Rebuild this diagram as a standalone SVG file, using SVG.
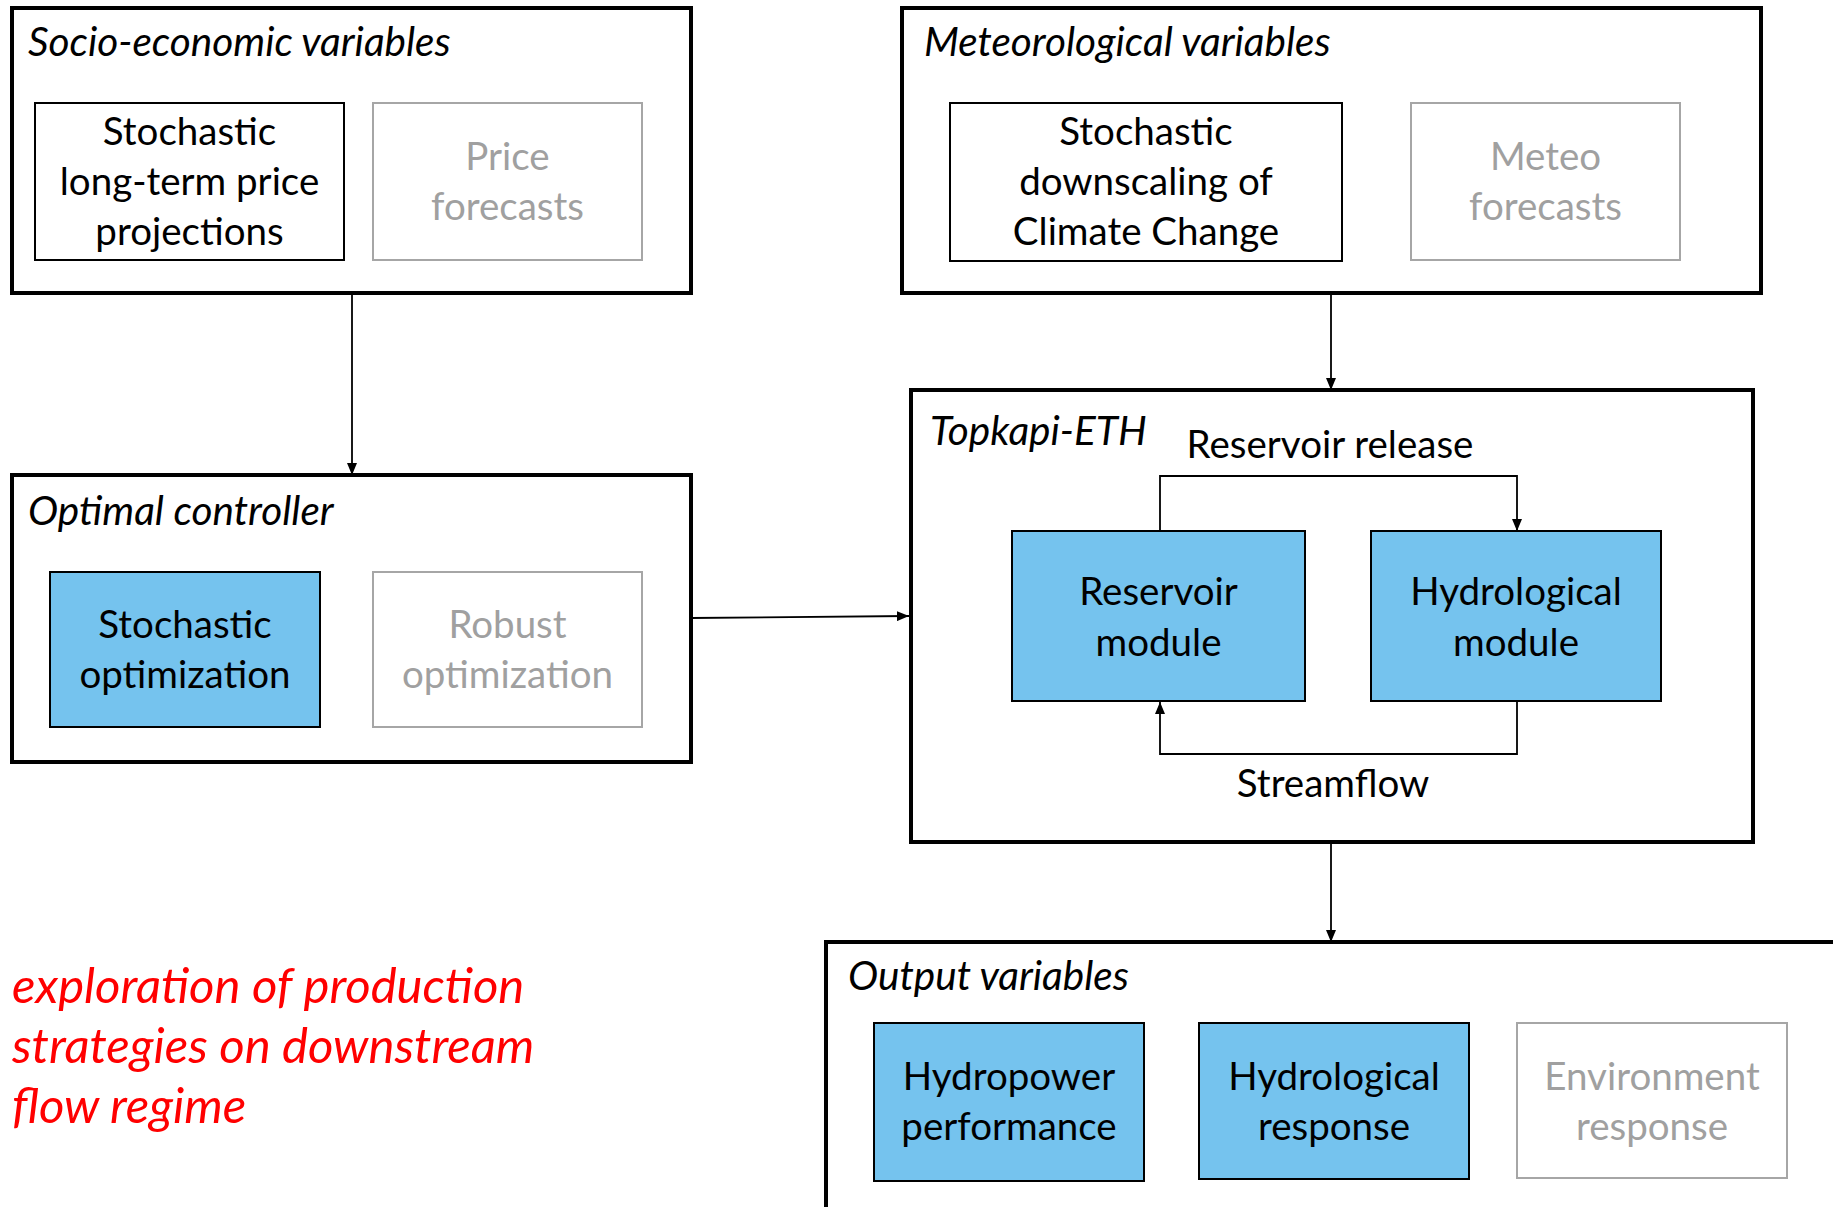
<svg xmlns="http://www.w3.org/2000/svg" width="1833" height="1207" viewBox="0 0 1833 1207">
  <style>
    .group { fill: #ffffff; stroke: #000000; stroke-width: 4; }
    .box { fill: #ffffff; stroke: #000000; stroke-width: 2; }
    .blue { fill: #75C3EE; stroke: #000000; stroke-width: 2; }
    .grey { fill: #ffffff; stroke: #A6A6A6; stroke-width: 2; }
    .title { font-family: Lato, "Liberation Sans", sans-serif; font-style: italic; font-size: 40.5px; fill: #000000; }
    .lbl { font-family: Lato, "Liberation Sans", sans-serif; font-size: 38.5px; fill: #000000; text-anchor: middle; }
    .lbl.dim { fill: #A0A0A0; }
    .note { font-family: Lato, "Liberation Sans", sans-serif; font-style: italic; font-size: 49px; fill: #FF0000; }
    .conn { fill: none; stroke: #000000; stroke-width: 1.8; }
  </style>
  <defs>
    <marker id="arrow" viewBox="0 0 12 10" refX="12" refY="5" markerWidth="12" markerHeight="10" markerUnits="userSpaceOnUse" orient="auto">
      <path d="M0,0 L12,5 L0,10 Z" fill="#000000"/>
    </marker>
  </defs>

  <rect width="1833" height="1207" fill="#ffffff"/>

  <!-- Socio-economic variables -->
  <g id="socio-economic">
    <rect class="group" x="12" y="8" width="679" height="285"/>
    <text class="title" x="28" y="56">Socio-economic variables</text>
    <g id="price-projections">
      <rect class="box" x="35" y="103" width="309" height="157"/>
      <text class="lbl" x="189.5" y="145">Stochastic</text>
      <text class="lbl" x="189.5" y="195">long-term price</text>
      <text class="lbl" x="189.5" y="245">projections</text>
    </g>
    <g id="price-forecasts">
      <rect class="grey" x="373" y="103" width="269" height="157"/>
      <text class="lbl dim" x="507.5" y="170">Price</text>
      <text class="lbl dim" x="507.5" y="220">forecasts</text>
    </g>
  </g>

  <!-- Meteorological variables -->
  <g id="meteorological">
    <rect class="group" x="902" y="8" width="859" height="285"/>
    <text class="title" x="924" y="56">Meteorological variables</text>
    <g id="climate-downscaling">
      <rect class="box" x="950" y="103" width="392" height="158"/>
      <text class="lbl" x="1146" y="145">Stochastic</text>
      <text class="lbl" x="1146" y="195">downscaling of</text>
      <text class="lbl" x="1146" y="245">Climate Change</text>
    </g>
    <g id="meteo-forecasts">
      <rect class="grey" x="1411" y="103" width="269" height="157"/>
      <text class="lbl dim" x="1545.5" y="170">Meteo</text>
      <text class="lbl dim" x="1545.5" y="220">forecasts</text>
    </g>
  </g>

  <!-- Optimal controller -->
  <g id="optimal-controller">
    <rect class="group" x="12" y="475" width="679" height="287"/>
    <text class="title" x="28" y="525">Optimal controller</text>
    <g id="stochastic-optimization">
      <rect class="blue" x="50" y="572" width="270" height="155"/>
      <text class="lbl" x="185" y="638">Stochastic</text>
      <text class="lbl" x="185" y="688">optimization</text>
    </g>
    <g id="robust-optimization">
      <rect class="grey" x="373" y="572" width="269" height="155"/>
      <text class="lbl dim" x="507.5" y="638">Robust</text>
      <text class="lbl dim" x="507.5" y="688">optimization</text>
    </g>
  </g>

  <!-- Topkapi-ETH -->
  <g id="topkapi-eth">
    <rect class="group" x="911" y="390" width="842" height="452"/>
    <text class="title" x="930" y="445">Topkapi-ETH</text>
    <g id="reservoir-module">
      <rect class="blue" x="1012" y="531" width="293" height="170"/>
      <text class="lbl" x="1158.5" y="605">Reservoir</text>
      <text class="lbl" x="1158.5" y="656">module</text>
    </g>
    <g id="hydrological-module">
      <rect class="blue" x="1371" y="531" width="290" height="170"/>
      <text class="lbl" x="1516" y="605">Hydrological</text>
      <text class="lbl" x="1516" y="656">module</text>
    </g>
  </g>

  <!-- Output variables -->
  <g id="output-variables">
    <rect class="group" x="826" y="942" width="1020" height="280"/>
    <text class="title" x="848" y="990">Output variables</text>
    <g id="hydropower-performance">
      <rect class="blue" x="874" y="1023" width="270" height="158"/>
      <text class="lbl" x="1009" y="1090">Hydropower</text>
      <text class="lbl" x="1009" y="1140">performance</text>
    </g>
    <g id="hydrological-response">
      <rect class="blue" x="1199" y="1023" width="270" height="156"/>
      <text class="lbl" x="1334" y="1090">Hydrological</text>
      <text class="lbl" x="1334" y="1140">response</text>
    </g>
    <g id="environment-response">
      <rect class="grey" x="1517" y="1023" width="270" height="155"/>
      <text class="lbl dim" x="1652" y="1090">Environment</text>
      <text class="lbl dim" x="1652" y="1140">response</text>
    </g>
  </g>

  <!-- Connectors -->
  <g id="connectors">
    <path class="conn" d="M352,293 L352,475" marker-end="url(#arrow)"/>
    <path class="conn" d="M1331,293 L1331,390" marker-end="url(#arrow)"/>
    <path class="conn" d="M691,618 L909,616" marker-end="url(#arrow)"/>
    <path class="conn" d="M1160,531 L1160,476 L1517,476 L1517,531" marker-end="url(#arrow)"/>
    <path class="conn" d="M1517,701 L1517,754 L1160,754 L1160,702" marker-end="url(#arrow)"/>
    <path class="conn" d="M1331,842 L1331,942" marker-end="url(#arrow)"/>
    <text class="lbl" x="1330" y="458">Reservoir release</text>
    <text class="lbl" x="1333" y="797">Streamflow</text>
  </g>

  <!-- Annotation -->
  <g id="note">
    <text class="note" x="12" y="1003">exploration of production</text>
    <text class="note" x="12" y="1063">strategies on downstream</text>
    <text class="note" x="12" y="1123">flow regime</text>
  </g>
</svg>
